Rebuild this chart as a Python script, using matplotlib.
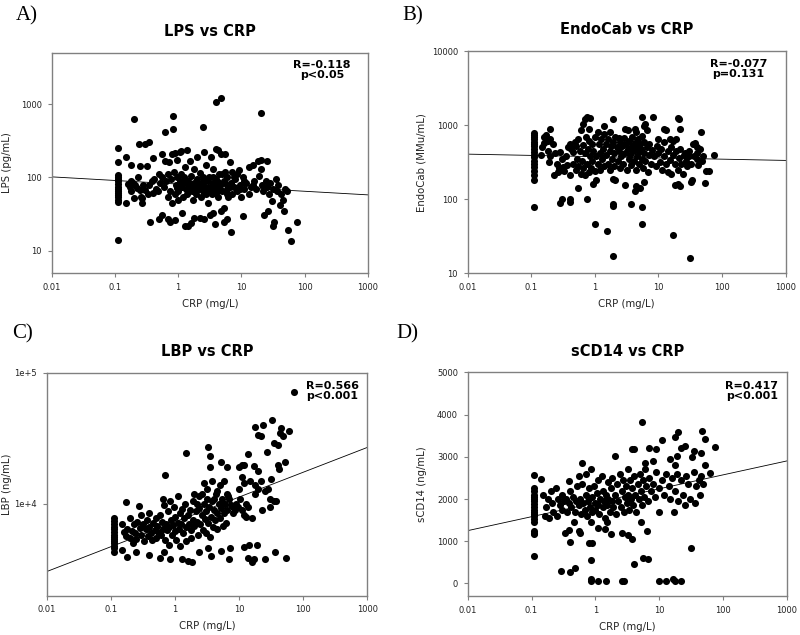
import numpy as np
import matplotlib
matplotlib.use("Agg")
import matplotlib.pyplot as plt
from matplotlib.ticker import NullLocator

# CRP (mg/L) vs marker
lps_data = [
    (0.11, 250), (0.11, 165), (0.11, 108), (0.11, 100), (0.11, 95), (0.11, 90), (0.11, 82),
    (0.11, 75), (0.11, 70), (0.11, 66), (0.11, 62), (0.11, 58), (0.11, 55), (0.11, 50),
    (0.11, 46), (0.11, 14),
    (0.15, 190), (0.15, 45), (0.16, 82), (0.17, 75), (0.18, 150), (0.18, 90), (0.18, 65),
    (0.19, 85), (0.2, 620), (0.2, 52), (0.21, 78), (0.22, 72), (0.23, 100), (0.24, 290),
    (0.25, 68), (0.25, 145), (0.26, 55), (0.27, 45), (0.27, 52), (0.28, 80), (0.3, 290),
    (0.3, 68), (0.32, 145), (0.33, 60), (0.35, 300), (0.35, 80), (0.36, 25), (0.38, 90),
    (0.4, 185), (0.4, 62), (0.42, 95), (0.45, 70), (0.48, 65), (0.5, 27), (0.5, 110),
    (0.52, 85), (0.55, 210), (0.55, 100), (0.55, 31), (0.6, 75), (0.62, 410), (0.62, 170),
    (0.65, 90), (0.68, 55), (0.7, 27), (0.7, 110), (0.72, 160), (0.75, 25), (0.75, 65),
    (0.78, 95), (0.8, 210), (0.8, 45), (0.82, 680), (0.82, 455), (0.85, 120), (0.88, 60),
    (0.9, 26), (0.9, 215), (0.92, 80), (0.95, 175), (0.95, 100), (1.0, 50), (1.0, 65),
    (1.05, 220), (1.05, 90), (1.1, 230), (1.1, 110), (1.15, 33), (1.15, 75), (1.2, 85),
    (1.2, 55), (1.25, 100), (1.3, 22), (1.3, 140), (1.35, 70), (1.4, 235), (1.4, 60),
    (1.45, 22), (1.45, 90), (1.5, 80), (1.55, 170), (1.6, 24), (1.6, 105), (1.65, 65),
    (1.7, 50), (1.75, 85), (1.8, 28), (1.8, 130), (1.85, 75), (1.9, 60), (2.0, 190),
    (2.0, 95), (2.1, 70), (2.2, 28), (2.2, 115), (2.3, 55), (2.4, 80), (2.5, 480), (2.5, 65),
    (2.6, 225), (2.6, 27), (2.7, 90), (2.8, 150), (2.9, 70), (3.0, 45), (3.1, 100), (3.2, 31),
    (3.2, 75), (3.3, 190), (3.4, 60), (3.5, 85), (3.6, 33), (3.6, 130), (3.8, 23), (3.8, 70),
    (4.0, 1070), (4.0, 245), (4.0, 95), (4.2, 55), (4.3, 240), (4.4, 110), (4.6, 80),
    (4.7, 35), (4.8, 1220), (4.8, 210), (5.0, 65), (5.2, 38), (5.2, 90), (5.3, 25),
    (5.5, 210), (5.5, 120), (5.8, 70), (6.0, 27), (6.0, 100), (6.2, 55), (6.5, 165),
    (6.8, 18), (6.8, 85), (7.0, 120), (7.2, 60), (7.5, 75), (8.0, 95), (8.5, 65), (9.0, 125),
    (9.5, 80), (10, 55), (10.5, 30), (10.5, 100), (11, 70), (12, 85), (13, 140), (13, 60),
    (14, 75), (15, 150), (16, 90), (17, 70), (18, 170), (19, 105), (20, 760), (20, 130),
    (20, 175), (21, 80), (22, 65), (23, 31), (24, 90), (25, 170), (25, 75), (26, 35),
    (27, 60), (28, 85), (30, 48), (31, 22), (32, 70), (33, 25), (35, 95), (36, 65), (38, 80),
    (40, 42), (42, 60), (45, 50), (47, 35), (48, 70), (52, 65), (55, 19), (60, 13.5), (75, 25),
    (1.1, 80), (1.3, 95), (1.7, 70), (2.3, 85), (2.7, 75), (3.0, 90), (3.3, 65), (3.7, 80),
    (4.5, 70), (5.5, 85), (2.8, 60), (3.5, 100), (2.0, 78), (1.5, 68), (4.2, 88), (6.5, 75),
    (7.5, 100), (8.5, 110), (11, 90), (15, 80), (0.95, 72), (2.5, 100), (3.9, 62), (5.0, 110),
    (6.0, 60), (9.5, 70),
]

endocab_data = [
    (0.11, 780), (0.11, 740), (0.11, 700), (0.11, 650), (0.11, 600), (0.11, 560), (0.11, 520),
    (0.11, 480), (0.11, 440), (0.11, 400), (0.11, 370), (0.11, 330), (0.11, 300), (0.11, 270),
    (0.11, 240), (0.11, 210), (0.11, 180), (0.11, 78),
    (0.28, 90), (0.3, 100), (0.4, 100), (0.4, 92), (0.55, 140), (0.75, 100), (1.0, 47),
    (1.55, 37), (1.9, 80), (1.95, 86), (1.95, 17), (3.7, 87), (5.6, 78), (5.6, 47), (17, 33),
    (31, 16), (4.2, 130), (4.5, 150), (5.2, 140), (6.0, 170), (3.0, 155), (0.95, 160),
    (1.05, 180), (1.9, 185), (2.1, 180), (20, 160), (22, 150), (18, 155), (34, 180), (32, 170),
    (54, 165), (55, 240), (62, 240), (48, 330), (75, 400), (47, 800), (40, 500), (38, 570),
    (0.2, 900), (0.17, 740), (0.16, 700), (0.75, 1300), (0.85, 1250), (0.7, 1200), (0.65, 1050),
    (0.6, 870), (0.8, 880), (1.95, 1220), (5.5, 1270), (8.2, 1270), (6.2, 1050), (6.0, 980),
    (20, 1230), (21, 1220), (22, 900), (12, 900), (13, 870), (1.4, 980), (1.7, 800), (2.4, 680),
    (3.0, 900), (3.3, 850), (4.2, 900), (4.5, 800), (6.5, 870), (10, 650), (15, 650), (17, 620),
    (19, 650), (12, 600), (26, 420), (30, 380), (35, 550), (40, 420),
    (0.14, 400), (0.15, 500), (0.16, 570), (0.18, 620), (0.18, 450), (0.19, 320), (0.2, 380),
    (0.2, 660), (0.22, 560), (0.23, 210), (0.24, 420), (0.25, 300), (0.26, 230), (0.27, 260),
    (0.28, 440), (0.3, 250), (0.3, 350), (0.32, 270), (0.33, 240), (0.35, 380), (0.37, 290),
    (0.38, 500), (0.4, 550), (0.4, 210), (0.42, 470), (0.45, 300), (0.45, 430), (0.48, 600),
    (0.5, 250), (0.5, 520), (0.52, 350), (0.55, 640), (0.55, 280), (0.58, 450), (0.6, 220),
    (0.62, 330), (0.65, 540), (0.65, 260), (0.7, 210), (0.7, 420), (0.72, 700), (0.75, 300),
    (0.78, 480), (0.8, 230), (0.8, 620), (0.85, 380), (0.88, 260), (0.9, 550), (0.9, 330),
    (0.95, 450), (1.0, 240), (1.0, 700), (1.05, 380), (1.1, 820), (1.1, 300), (1.15, 560),
    (1.2, 420), (1.2, 250), (1.25, 650), (1.3, 350), (1.35, 480), (1.4, 280), (1.4, 750),
    (1.5, 560), (1.5, 400), (1.6, 300), (1.6, 650), (1.7, 450), (1.75, 250), (1.8, 520),
    (1.85, 350), (1.9, 600), (2.0, 420), (2.0, 280), (2.1, 700), (2.2, 500), (2.3, 330),
    (2.4, 450), (2.5, 260), (2.5, 600), (2.6, 380), (2.7, 520), (2.8, 300), (2.9, 680),
    (3.0, 420), (3.1, 550), (3.2, 250), (3.3, 480), (3.4, 350), (3.5, 620), (3.6, 400),
    (3.7, 290), (3.8, 530), (3.9, 700), (4.0, 450), (4.1, 330), (4.2, 580), (4.4, 250),
    (4.5, 500), (4.6, 380), (4.8, 650), (5.0, 430), (5.0, 300), (5.2, 550), (5.4, 480),
    (5.5, 350), (5.6, 720), (5.8, 260), (6.0, 600), (6.0, 420), (6.2, 330), (6.5, 500),
    (6.8, 230), (7.0, 400), (7.2, 560), (7.5, 300), (8.0, 460), (8.5, 380), (9.0, 280),
    (9.5, 530), (10, 420), (10.5, 320), (11, 480), (11.5, 250), (12, 380), (13, 300), (14, 450),
    (14, 230), (15, 340), (16, 500), (16, 220), (17, 400), (18, 300), (19, 450), (20, 250),
    (21, 360), (22, 480), (23, 300), (24, 220), (25, 400), (27, 330), (28, 280), (30, 450),
    (33, 300), (36, 380), (40, 350), (42, 290), (45, 470), (50, 380),
]

lbp_data = [
    (0.11, 7800), (0.11, 7400), (0.11, 7000), (0.11, 6700), (0.11, 6400), (0.11, 6100),
    (0.11, 5800), (0.11, 5600), (0.11, 5400), (0.11, 5200), (0.11, 5000), (0.11, 4800),
    (0.11, 4600), (0.11, 4300),
    (73, 71000), (18, 38400), (20, 33700), (22, 33000), (24, 40000), (33, 43700), (35, 29000),
    (40, 28000), (44, 35000), (45, 38000), (48, 33000), (60, 36000), (42, 18400), (40, 20000),
    (52, 21000), (27, 25000), (14, 24000), (20, 18000), (17, 19400), (11, 20000), (12, 20000),
    (10, 19000), (6.5, 19000), (5.2, 21000), (3.5, 23200), (3.3, 27000), (1.5, 24300),
    (0.7, 16700), (3.5, 19000),
    (15, 15000), (18, 14000), (20, 13000), (22, 15000), (25, 12500), (30, 11000), (32, 15500),
    (35, 10500), (38, 10500), (28, 13000), (23, 9000), (30, 9500), (18, 12000), (12, 14500),
    (11, 16000), (10, 13000), (9, 10000), (8, 9500), (13, 10000), (14, 9500), (16, 7800),
    (12, 8200), (13, 8000), (8.5, 9000), (7, 11000), (6.5, 12000), (5.8, 15000), (5.0, 14000),
    (4.5, 12500), (4.0, 11000), (3.8, 15000), (3.2, 13000), (2.8, 14500), (2.6, 12000),
    (2.4, 11500), (2.2, 10000), (2.0, 12000),
    (0.17, 10400), (0.15, 4460), (0.18, 3950), (0.25, 4300), (0.4, 4100), (0.58, 3880),
    (0.68, 4300), (0.85, 3800), (1.3, 3800), (1.6, 3700), (1.85, 3600), (2.4, 4300),
    (3.7, 4000), (3.3, 4600), (5.3, 4400), (7, 3800), (7.2, 4600), (12, 4700), (14, 3900),
    (14.5, 4900), (16, 3640), (17, 3800), (19, 4900), (25, 3800), (36, 4300), (53, 3900),
    (0.15, 7000), (0.16, 6100), (0.17, 5700), (0.18, 6500), (0.2, 5500), (0.2, 7800),
    (0.21, 6200), (0.22, 5000), (0.23, 7000), (0.24, 6000), (0.25, 5400), (0.26, 7300),
    (0.27, 9700), (0.28, 6600), (0.29, 8300), (0.3, 5800), (0.32, 7000), (0.33, 5200),
    (0.35, 6400), (0.36, 7600), (0.38, 5700), (0.4, 8500), (0.4, 6700), (0.42, 6000),
    (0.44, 5300), (0.45, 7200), (0.48, 6300), (0.5, 7800), (0.5, 5500), (0.52, 6800),
    (0.55, 6100), (0.58, 8200), (0.6, 5800), (0.62, 7300), (0.64, 11000), (0.65, 6500),
    (0.68, 9800), (0.7, 5300), (0.72, 7000), (0.75, 6300), (0.78, 8800), (0.8, 4900),
    (0.82, 6700), (0.85, 10500), (0.88, 7500), (0.9, 5800), (0.92, 6900), (0.95, 9500),
    (1.0, 6200), (1.0, 8000), (1.05, 5300), (1.1, 7200), (1.1, 11500), (1.15, 6500),
    (1.2, 8500), (1.2, 4800), (1.25, 7000), (1.3, 9200), (1.35, 6000), (1.4, 7800),
    (1.45, 10000), (1.5, 6700), (1.5, 5200), (1.6, 8300), (1.65, 7100), (1.7, 9000),
    (1.75, 6300), (1.8, 5500), (1.9, 7600), (1.9, 10500), (2.0, 6800), (2.1, 8800),
    (2.2, 7300), (2.3, 5800), (2.4, 9300), (2.5, 7000), (2.6, 8200), (2.7, 6300), (2.8, 10000),
    (2.9, 7700), (3.0, 6000), (3.1, 8800), (3.2, 11000), (3.3, 7200), (3.4, 9500), (3.5, 5600),
    (3.6, 8000), (3.8, 10500), (3.9, 6700), (4.0, 9000), (4.2, 7500), (4.3, 12000), (4.5, 8500),
    (4.6, 6400), (4.8, 10000), (5.0, 7800), (5.2, 9300), (5.5, 11000), (5.6, 6800), (5.8, 8500),
    (6.0, 10000), (6.2, 7200), (6.4, 9000), (6.8, 11500), (7.5, 9800), (8.0, 8500), (9.5, 9500),
    (10.5, 11000), (11, 9000),
]

scd14_data = [
    (0.11, 2580), (0.11, 2250), (0.11, 2200), (0.11, 2100), (0.11, 2050), (0.11, 2000),
    (0.11, 1950), (0.11, 1880), (0.11, 1800), (0.11, 1750), (0.11, 1700), (0.11, 1650),
    (0.11, 1600), (0.11, 1530), (0.11, 1450), (0.11, 1250), (0.11, 1200), (0.11, 1170),
    (0.11, 640),
    (0.29, 290), (0.4, 270), (0.48, 370), (0.85, 100), (0.85, 60), (1.1, 60), (1.45, 60),
    (2.6, 60), (2.8, 60), (4.1, 450), (5.6, 600), (6.6, 580), (10, 60), (13, 60), (16.5, 100),
    (18, 60), (22, 60), (32, 850), (0.85, 550), (0.8, 950), (0.9, 950), (0.4, 980), (0.39, 1270),
    (0.33, 1200), (0.55, 1230), (0.58, 1190), (1.1, 1320), (1.4, 1300), (1.75, 1170),
    (2.6, 1200), (3.3, 1150), (3.7, 1060), (5.2, 1450), (6.5, 1250), (1.5, 1450), (0.47, 1450),
    (5.3, 3830), (20, 3600), (17.5, 3470), (11, 3400), (46, 3620), (52, 3430), (75, 3230),
    (62, 2620), (52, 2800), (45, 3080), (35, 3150), (33, 2990), (25, 3250), (22, 3200),
    (19, 3020), (18, 2800), (15, 2950), (9, 3180), (6.8, 3220), (4, 3180), (3.7, 3180),
    (8, 2900), (6, 2850), (2, 3020), (0.62, 2860), (0.85, 2700), (0.72, 2600), (0.55, 2550),
    (0.38, 2420), (0.14, 2470),
    (0.15, 2100), (0.16, 1600), (0.17, 1800), (0.18, 2000), (0.19, 1550), (0.2, 2200),
    (0.21, 1900), (0.22, 1700), (0.24, 2250), (0.25, 1600), (0.26, 2000), (0.28, 1850),
    (0.3, 1750), (0.3, 2100), (0.32, 1950), (0.35, 2000), (0.36, 1700), (0.38, 1900),
    (0.4, 2200), (0.42, 1800), (0.45, 2050), (0.48, 1700), (0.5, 1950), (0.52, 2300),
    (0.55, 1850), (0.58, 2000), (0.6, 1650), (0.62, 2350), (0.65, 1900), (0.7, 1750),
    (0.72, 2100), (0.75, 1600), (0.78, 1950), (0.8, 2250), (0.82, 1800), (0.85, 1450),
    (0.88, 2050), (0.9, 1700), (0.95, 2300), (1.0, 1900), (1.0, 1750), (1.05, 2150),
    (1.1, 1850), (1.1, 2450), (1.15, 1650), (1.2, 2000), (1.25, 2550), (1.3, 1800),
    (1.3, 2200), (1.35, 1950), (1.4, 1550), (1.45, 2100), (1.5, 1850), (1.55, 2400),
    (1.6, 2000), (1.7, 1700), (1.75, 2250), (1.8, 1950), (1.85, 2500), (1.9, 1800),
    (2.0, 2100), (2.1, 1650), (2.2, 2350), (2.3, 1950), (2.4, 2600), (2.5, 1800), (2.6, 2200),
    (2.7, 2450), (2.8, 1700), (2.9, 2050), (3.0, 2300), (3.1, 1900), (3.2, 2700), (3.3, 2100),
    (3.4, 1750), (3.5, 2450), (3.6, 2000), (3.8, 2250), (3.9, 1850), (4.0, 2550), (4.2, 2100),
    (4.4, 1700), (4.6, 2350), (4.8, 2000), (5.0, 2600), (5.2, 2200), (5.4, 1850), (5.6, 2450),
    (5.8, 2050), (6.0, 2700), (6.3, 2300), (6.6, 1950), (7.0, 2500), (7.5, 2200), (8.0, 2350),
    (8.5, 2050), (9.0, 2650), (10, 2250), (10, 1700), (11, 2450), (12, 2100), (13, 2600),
    (14, 2300), (15, 2000), (16, 2500), (17, 1700), (18, 2200), (19, 2600), (20, 1950),
    (22, 2450), (24, 2100), (25, 1850), (26, 2550), (28, 2350), (30, 2000), (35, 2650),
    (36, 1900), (38, 2300), (42, 2450), (44, 2100), (48, 2350), (45, 2550),
]

# regression lines, values at CRP = 0.01 and 1000
fit_crp = [0.01, 1000]
lps_fit = [102, 58]
endocab_fit = [406, 334]
lbp_fit = [3055, 27000]
scd14_fit = [1250, 2903]

panel_letters = ["A)", "B)", "C)", "D)"]
titles = ["LPS vs CRP", "EndoCab vs CRP", "LBP vs CRP", "sCD14 vs CRP"]
ylabels = ["LPS (pg/mL)", "EndoCab (MMu/mL)", "LBP (ng/mL)", "sCD14 (ng/mL)"]
stats = ["R=-0.118\np<0.05", "R=-0.077\np=0.131", "R=0.566\np<0.001", "R=0.417\np<0.001"]

xticks = [0.01, 0.1, 1, 10, 100, 1000]
xticklabels = ["0.01", "0.1", "1", "10", "100", "1000"]

fig = plt.figure(figsize=(8, 6.35), dpi=100)

rects = [
    [0.0646, 0.570, 0.3954, 0.347],
    [0.5846, 0.5696, 0.3975, 0.350],
    [0.0584, 0.0619, 0.4008, 0.351],
    [0.5846, 0.0614, 0.3990, 0.352],
]
letter_pos = [(0.033, 0.975), (0.516, 0.975), (0.028, 0.474), (0.509, 0.474)]
stat_pos = [(0.855, 0.965), (0.851, 0.965), (0.89, 0.962), (0.89, 0.962)]
ylabel_x = [-0.126, -0.129, -0.109, -0.128]

datasets = [lps_data, endocab_data, lbp_data, scd14_data]
fits = [lps_fit, endocab_fit, lbp_fit, scd14_fit]

grey = "#808080"

for i in range(4):
    ax = fig.add_axes(rects[i])
    pts = np.array(datasets[i])
    ax.scatter(pts[:, 0], pts[:, 1], s=26, color="black", linewidths=0, zorder=3)
    ax.plot(fit_crp, fits[i], color="black", linewidth=0.6, zorder=2)

    ax.set_xscale("log")
    ax.set_xlim(0.01, 1000)
    ax.set_xticks(xticks)
    ax.set_xticklabels(xticklabels)
    ax.xaxis.set_minor_locator(NullLocator())

    if i == 0:
        ax.set_yscale("log")
        ax.set_ylim(5, 5000)
        ax.set_yticks([10, 100, 1000])
        ax.set_yticklabels(["10", "100", "1000"])
    elif i == 1:
        ax.set_yscale("log")
        ax.set_ylim(10, 10000)
        ax.set_yticks([10, 100, 1000, 10000])
        ax.set_yticklabels(["10", "100", "1000", "10000"])
    elif i == 2:
        ax.set_yscale("log")
        ax.set_ylim(2000, 100000)
        ax.set_yticks([10000, 100000])
        ax.set_yticklabels(["1e+4", "1e+5"])
    else:
        ax.set_ylim(-300, 5000)
        ax.set_yticks([0, 1000, 2000, 3000, 4000, 5000])
    ax.yaxis.set_minor_locator(NullLocator())

    for sp in ax.spines.values():
        sp.set_color(grey)
        sp.set_linewidth(1)
    ax.tick_params(direction="out", length=3, width=0.8, color=grey,
                   labelsize=6, labelcolor="#222222", pad=4)

    ax.set_xlabel("CRP (mg/L)", fontsize=7.3, color="#222222", labelpad=5)
    ax.set_ylabel(ylabels[i], fontsize=7.3, color="#222222")
    ax.yaxis.set_label_coords(ylabel_x[i], 0.5)
    ax.set_title(titles[i], fontsize=10.5, fontweight="bold", pad=12)
    ax.text(stat_pos[i][0], stat_pos[i][1], stats[i], transform=ax.transAxes,
            ha="center", va="top", fontsize=8, fontweight="bold", linespacing=1.0)

    fig.text(letter_pos[i][0], letter_pos[i][1], panel_letters[i], ha="center", va="center",
             fontsize=15, family="Liberation Serif")

fig.savefig("out.png", dpi=100)
